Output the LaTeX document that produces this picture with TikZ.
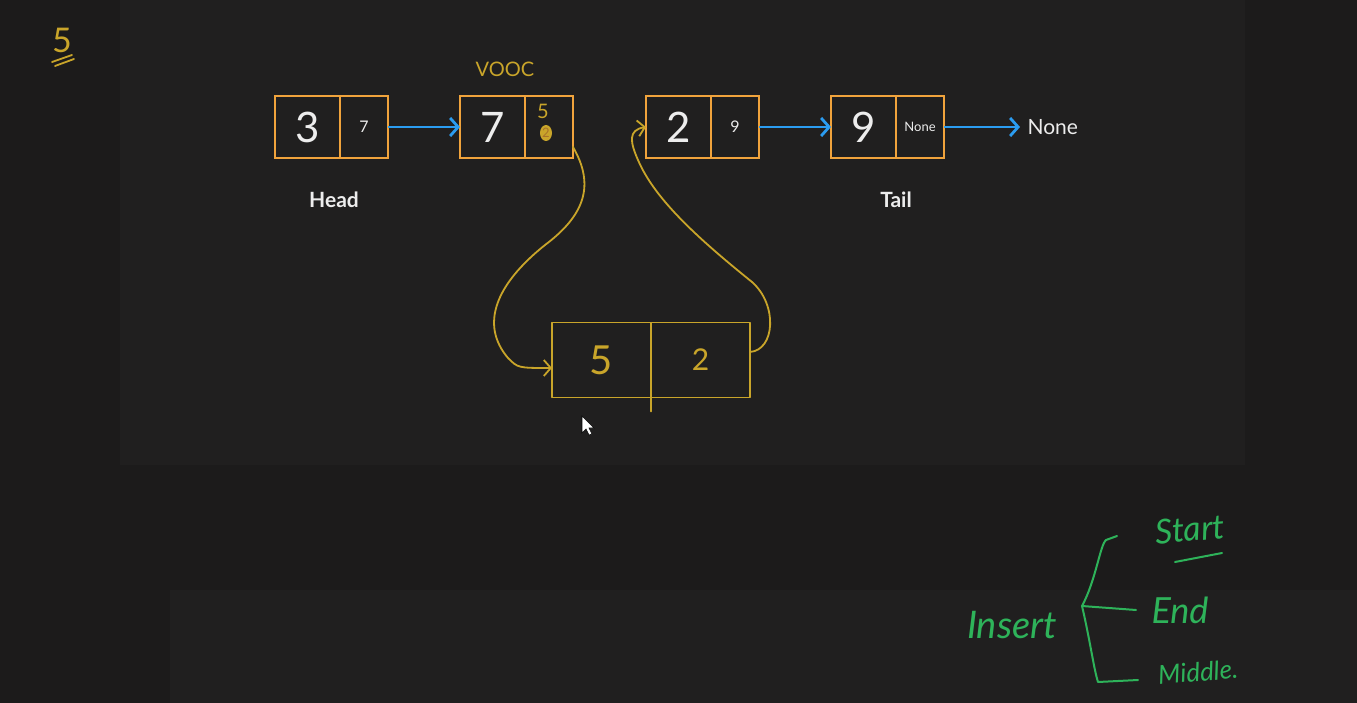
\documentclass[tikz,border=0pt]{standalone}
\usepackage{fontspec}
\setmainfont{Lato}
\usetikzlibrary{positioning}
\usetikzlibrary{arrows.meta}
\definecolor{boardbg}{HTML}{1C1B1B}
\definecolor{panelbg}{HTML}{201F1F}
\definecolor{boxorange}{HTML}{F0A33C}
\definecolor{linkblue}{HTML}{2B9CF0}
\definecolor{penyellow}{HTML}{C9A52A}
\definecolor{pengreen}{HTML}{2EB35A}
\definecolor{chalkwhite}{HTML}{EDEDED}

\begin{document}
\begin{tikzpicture}[x=1pt, y=-1pt,
valnode/.style={rectangle, draw=boxorange, line width=2pt, outer sep=0pt, minimum width=65pt, minimum height=62pt, inner sep=0pt, text=chalkwhite, font=\fontsize{42}{44}\selectfont},
ptrnode/.style={rectangle, draw=boxorange, line width=2pt, outer sep=0pt, minimum width=48pt, minimum height=62pt, inner sep=0pt, text=chalkwhite, font=\fontsize{16}{18}\selectfont},
tagnode/.style={text=chalkwhite, font=\fontsize{21}{24}\selectfont\bfseries},
link/.style={draw=linkblue, line width=2.8pt, -{Straight Barb[length=8pt,width=18pt]}},
hand/.style={draw=penyellow, line width=1.8pt, line cap=round, line join=round},
handnode/.style={rectangle, hand, outer sep=0pt, minimum width=99pt, minimum height=75pt, inner sep=0pt, text=penyellow},
handtext/.style={text=penyellow, font=\fontsize{#1}{#1}\selectfont},
greenpen/.style={draw=pengreen, line width=2pt, line cap=round, line join=round},
greentext/.style={text=pengreen, font=\fontsize{#1}{#1}\selectfont\itshape},
]
\fill[boardbg] (0,0) rectangle (1357,703);
\fill[panelbg] (120,0) rectangle (1245,465);
\fill[panelbg] (170,590) rectangle (1357,703);
\useasboundingbox (0,0) rectangle (1357,703);

%List nodes
\node[valnode] (v1) at (307.5,127) {3};
\node[ptrnode] (p1) [right=0pt of v1] {7};
\node[valnode] (v2) [right=72pt of p1] {7};
\node[ptrnode] (p2) [right=0pt of v2] {};
\node[valnode] (v3) [right=73pt of p2] {2};
\node[ptrnode] (p3) [right=0pt of v3] {9};
\node[valnode] (v4) [right=72pt of p3] {9};
\node[ptrnode, font=\fontsize{13}{14}\selectfont] (p4) [right=0pt of v4] {None};
\node[text=chalkwhite, font=\fontsize{21}{24}\selectfont] (null) [right=80pt of p4] {None};

\node[tagnode] (head) [below=30pt of v1.south east, xshift=-6pt] {Head};
\node[tagnode] (tail) [below=30pt of v4.south east] {Tail};

%Links
\draw[link] (p1) -- (v2);
\draw[link] (p3) -- (v4);
\draw[link, shorten >=4pt] (p4) -- (null);

%Pen notes
\node[handtext=34] (five) at (62,40) {5};
\draw[hand] (52,62) -- (72,55);
\draw[hand] (55,66) -- (74,59);
\node[handtext=20] (vooc) at (505,69) {VOOC};
\node[handtext=20] (newptr) at (543,111) {5};
\fill[penyellow] (546,133) ellipse [x radius=6pt, y radius=8pt];
\node[text=boxorange!70!black, font=\fontsize{13}{13}\selectfont] (oldptr) at (546,133) {2};

%New node
\node[handnode, font=\fontsize{40}{40}\selectfont] (new5) at (601.5,360) {5};
\node[handnode, font=\fontsize{30}{30}\selectfont] (new2) [right=0pt of new5] {2};
\draw[hand] (new5.south east) -- ++(0,14);

\draw[hand, -{Straight Barb[length=7pt,width=16pt]}] ([yshift=-20pt]p2.east)
  .. controls (595,185) and (585,215) .. (545,245)
  .. controls (495,285) and (480,325) .. (508,358)
  .. controls (518,368) .. ([yshift=-8pt]new5.west);
\draw[hand, -{Straight Barb[length=7pt,width=16pt]}] ([yshift=8pt]new2.east)
  .. controls (775,350) and (778,305) .. (752,282)
  .. controls (700,240) and (655,200) .. (638,160)
  .. controls (630,142) and (628,130) .. (v3.west);

%Cursor
\filldraw[fill=white, draw=black, line width=0.6pt] (582,416) -- (582,433) -- (586,429) -- (589,435) -- (592,434) -- (589,428) -- (594,428) -- cycle;

%Insert cases
\node[greentext=38] (insert) at (1012,625) {Insert};
\node[greentext=34, rotate=5] (start) at (1190,529) {Start};
\node[greentext=36] (endw) at (1180,610) {End};
\node[greentext=26, rotate=5, inner sep=1pt] (middle) at (1198,672) {Middle.};
\coordinate (fork) at (1082,606);
\coordinate (topend) at (1117,536);
\coordinate (lowend) at (1138,680);
\draw[greenpen] (fork) -- ([xshift=-12pt]endw.west);
\draw[greenpen] (fork) .. controls (1096,580) and (1100,545) .. (1106,540) -- (topend);
\draw[greenpen] (fork) .. controls (1090,640) and (1094,670) .. (1098,682) -- (lowend);
\draw[greenpen] (1175,562) -- (1222,553);
\end{tikzpicture}
\end{document}
